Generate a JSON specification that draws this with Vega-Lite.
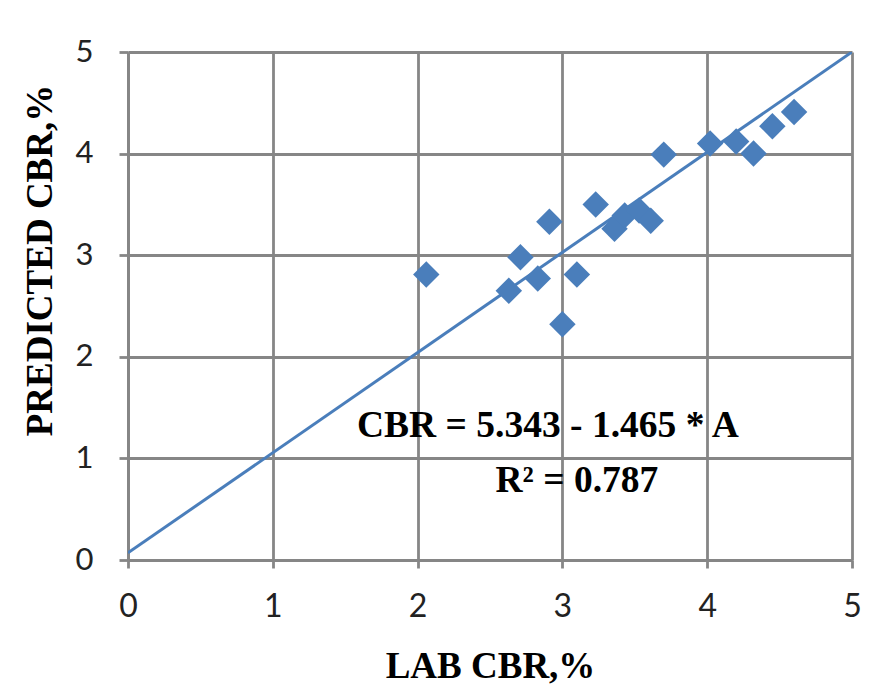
{
  "$schema": "https://vega.github.io/schema/vega-lite/v6.json",
  "width": 724,
  "height": 508,
  "autosize": "none",
  "padding": {"left": 128, "top": 52, "right": 38, "bottom": 129},
  "background": "white",
  "config": {"view": {"stroke": null}},
  "datasets": {
    "points": [
      {"lab": 2.06, "pred": 2.81},
      {"lab": 2.63, "pred": 2.65},
      {"lab": 2.71, "pred": 2.98},
      {"lab": 2.83, "pred": 2.77},
      {"lab": 2.91, "pred": 3.33},
      {"lab": 3.00, "pred": 2.32},
      {"lab": 3.10, "pred": 2.81},
      {"lab": 3.23, "pred": 3.50},
      {"lab": 3.36, "pred": 3.26},
      {"lab": 3.43, "pred": 3.39},
      {"lab": 3.53, "pred": 3.44},
      {"lab": 3.61, "pred": 3.34},
      {"lab": 3.70, "pred": 3.99},
      {"lab": 4.02, "pred": 4.10},
      {"lab": 4.20, "pred": 4.12},
      {"lab": 4.32, "pred": 4.00},
      {"lab": 4.45, "pred": 4.27},
      {"lab": 4.60, "pred": 4.41}
    ],
    "fit": [
      {"lab": 0, "pred": 0.07},
      {"lab": 5, "pred": 5.0}
    ],
    "notes": [
      {"lab": 2.9, "pred": 1.21, "label": "CBR = 5.343 - 1.465 * A"},
      {"lab": 3.1, "pred": 0.67, "label": "R² = 0.787"}
    ]
  },
  "layer": [
    {
      "data": {"name": "fit"},
      "mark": {"type": "line", "color": "#4A7EBB", "strokeWidth": 3, "clip": true},
      "encoding": {
        "x": {"field": "lab", "type": "quantitative",
          "scale": {"domain": [0, 5], "nice": false},
          "axis": {
            "title": "LAB CBR,%",
            "values": [0, 1, 2, 3, 4, 5], "format": "d",
            "grid": true, "gridColor": "#868686", "gridWidth": 2.8, "gridOpacity": 1,
            "domainColor": "#868686", "domainWidth": 2.8,
            "tickColor": "#868686", "tickWidth": 2.8, "tickSize": 8,
            "labelFont": "Lato", "labelFontSize": 32, "labelColor": "#222222", "labelPadding": 23,
            "labelFlush": false,
            "titleFont": "Liberation Serif", "titleFontSize": 37, "titleFontWeight": "bold", "titleColor": "#000000",
            "titleY": 117, "titleBaseline": "alphabetic"
          }
        },
        "y": {"field": "pred", "type": "quantitative",
          "scale": {"domain": [0, 5], "nice": false},
          "axis": {
            "title": "PREDICTED CBR,%",
            "values": [0, 1, 2, 3, 4, 5], "format": "d",
            "grid": true, "gridColor": "#868686", "gridWidth": 2.8, "gridOpacity": 1,
            "domainColor": "#868686", "domainWidth": 2.8,
            "tickColor": "#868686", "tickWidth": 2.8, "tickSize": 9,
            "labelFont": "Lato", "labelFontSize": 31, "labelColor": "#222222", "labelPadding": 26,
            "labelFlush": false,
            "titleFont": "Liberation Serif", "titleFontSize": 37, "titleFontWeight": "bold", "titleColor": "#000000",
            "titleX": -77, "titleY": 208, "titleBaseline": "alphabetic", "titleAngle": -90
          }
        }
      }
    },
    {
      "data": {"name": "points"},
      "mark": {"type": "point", "shape": "diamond", "filled": true, "size": 700, "color": "#4A7EBB", "opacity": 1},
      "encoding": {
        "x": {"field": "lab", "type": "quantitative"},
        "y": {"field": "pred", "type": "quantitative"}
      }
    },
    {
      "data": {"name": "notes"},
      "mark": {"type": "text", "font": "Liberation Serif", "fontSize": 37.5, "fontWeight": "bold", "color": "#000000", "align": "center", "baseline": "alphabetic"},
      "encoding": {
        "x": {"field": "lab", "type": "quantitative"},
        "y": {"field": "pred", "type": "quantitative"},
        "text": {"field": "label"}
      }
    }
  ]
}
